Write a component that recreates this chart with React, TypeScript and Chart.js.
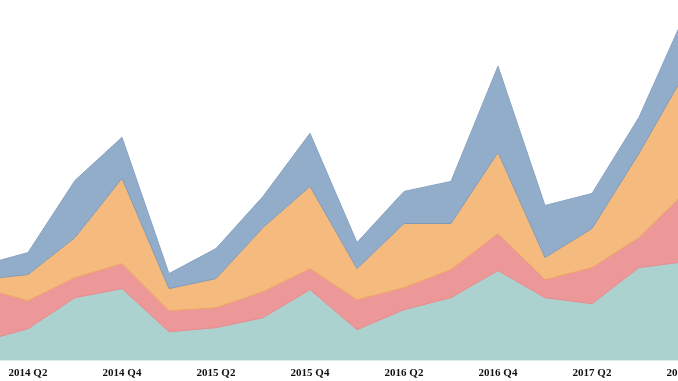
import React, { useEffect, useRef } from "react";
import { Chart, registerables } from "chart.js";

Chart.register(...registerables);

const quarters = [
  "2014 Q1", "2014 Q2", "2014 Q3", "2014 Q4",
  "2015 Q1", "2015 Q2", "2015 Q3", "2015 Q4",
  "2016 Q1", "2016 Q2", "2016 Q3", "2016 Q4",
  "2017 Q1", "2017 Q2", "2017 Q3", "2017 Q4",
];

const seriesA = [19, 32, 63, 72, 29, 33, 43, 71, 31, 51, 63, 90, 63, 57, 93, 99];
const seriesB = [54, 28, 20, 25, 21, 20, 26, 21, 30, 22, 28, 37, 18, 36, 30, 70];
const seriesC = [8, 26, 40, 85, 22, 29, 64, 82, 31, 64, 46, 81, 22, 39, 84, 120];
const seriesD = [14, 22, 57, 41, 15, 30, 31, 53, 26, 32, 42, 86, 52, 35, 36, 59];

const Y_MAX = 360;
const CANVAS_W = 785;
const CANVAS_H = 386;

export default function App() {
  const ref = useRef<HTMLCanvasElement | null>(null);

  useEffect(() => {
    if (!ref.current) return;
    const chart = new Chart(ref.current, {
      type: "line",
      data: {
        labels: quarters,
        datasets: [
          {
            label: "A",
            data: seriesA,
            backgroundColor: "#abd2cf",
            borderColor: "#e7898c",
            borderWidth: 1,
            fill: "origin",
            pointRadius: 0,
            tension: 0,
          },
          {
            label: "B",
            data: seriesB,
            backgroundColor: "#ec9899",
            borderColor: "#f1a461",
            borderWidth: 1,
            fill: "-1",
            pointRadius: 0,
            tension: 0,
          },
          {
            label: "C",
            data: seriesC,
            backgroundColor: "#f5ba7d",
            borderColor: "#8199b7",
            borderWidth: 1,
            fill: "-1",
            pointRadius: 0,
            tension: 0,
          },
          {
            label: "D",
            data: seriesD,
            backgroundColor: "#92adc9",
            borderColor: "#8aa3c2",
            borderWidth: 1,
            fill: "-1",
            pointRadius: 0,
            tension: 0,
          },
        ],
      },
      options: {
        responsive: false,
        animation: false,
        devicePixelRatio: 1,
        layout: { padding: { left: 40, right: 40, top: 0, bottom: 0 } },
        plugins: {
          legend: { display: false },
          tooltip: { enabled: false },
        },
        scales: {
          x: {
            offset: false,
            grid: { display: false, drawTicks: false },
            border: { display: false },
            ticks: {
              autoSkip: false,
              maxRotation: 0,
              minRotation: 0,
              padding: 6,
              color: "#111",
              font: { family: "'Liberation Serif', 'Times New Roman', serif", size: 11, weight: "bold" },
              callback: function (this: any, value: any) {
                const lab = quarters[value as number];
                return lab.endsWith("Q2") || lab.endsWith("Q4") ? lab : "";
              },
            },
          },
          y: {
            display: false,
            stacked: true,
            min: 0,
            max: Y_MAX,
          },
        },
      },
    });
    return () => chart.destroy();
  }, []);

  return (
    <div
      style={{
        position: "fixed",
        left: 0,
        top: 0,
        width: 678,
        height: 381,
        overflow: "hidden",
        background: "#fff",
      }}
    >
      <div style={{ position: "absolute", left: -59, top: 0, width: CANVAS_W, height: CANVAS_H }}>
        <canvas
          ref={ref}
          width={CANVAS_W}
          height={CANVAS_H}
          style={{ width: CANVAS_W, height: CANVAS_H, display: "block" }}
        />
      </div>
    </div>
  );
}
